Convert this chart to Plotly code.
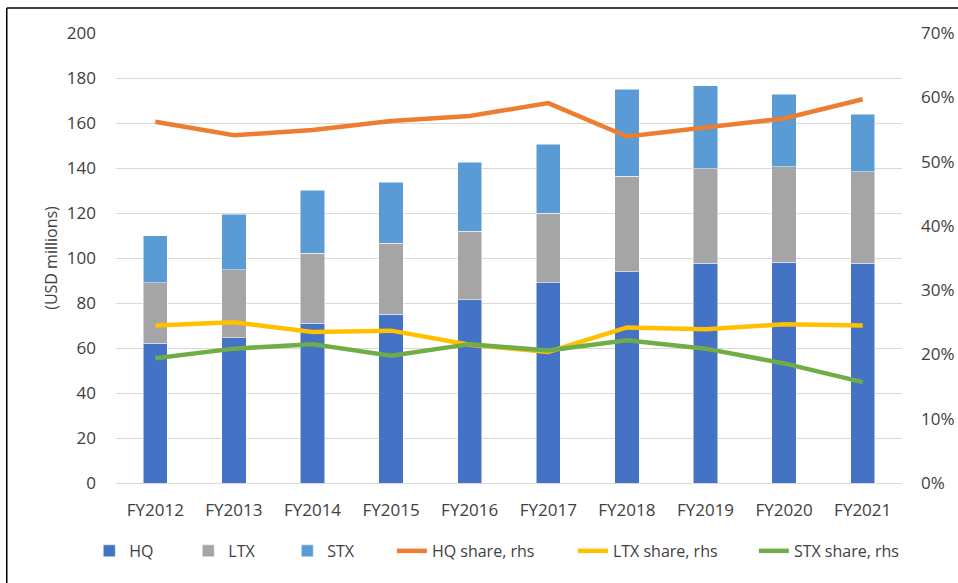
import plotly.graph_objects as go

years = ["FY2012", "FY2013", "FY2014", "FY2015", "FY2016",
         "FY2017", "FY2018", "FY2019", "FY2020", "FY2021"]

# USD millions (stacked components)
hq = [62.2, 64.6, 71.1, 75.0, 81.5, 89.0, 94.0, 97.6, 98.1, 97.6]
ltx = [26.8, 30.1, 31.0, 31.5, 30.5, 31.0, 42.4, 42.1, 42.5, 40.8]
stx = [21.0, 24.7, 28.1, 27.1, 30.5, 30.5, 38.7, 36.9, 32.1, 25.5]

# shares (%), right-hand scale
hq_share = [56.2, 54.1, 54.9, 56.3, 57.1, 59.1, 53.9, 55.3, 56.7, 59.7]
ltx_share = [24.5, 25.0, 23.5, 23.7, 21.5, 20.4, 24.2, 23.9, 24.7, 24.5]
stx_share = [19.4, 20.9, 21.6, 19.8, 21.6, 20.6, 22.2, 20.9, 18.6, 15.7]

left_ticks = [0, 20, 40, 60, 80, 100, 120, 140, 160, 180, 200]
right_ticks = [0, 10, 20, 30, 40, 50, 60, 70]
right_labels = [f"{t}%" for t in right_ticks]

FONT = "Open Sans, Noto Sans, sans-serif"
TXT = "#404040"

fig = go.Figure()

bar_specs = [("HQ", hq, "#4472C4"), ("LTX", ltx, "#A5A5A5"), ("STX", stx, "#5B9BD5")]
for name, vals, col in bar_specs:
    fig.add_trace(go.Bar(
        x=years, y=vals, name=name,
        marker=dict(color=col, line=dict(color="#FFFFFF", width=0.5)),
        legend="legend",
    ))

line_specs = [("HQ share, rhs", hq_share, "#ED7D31"),
              ("LTX share, rhs", ltx_share, "#FFC000"),
              ("STX share, rhs", stx_share, "#70AD47")]
for name, vals, col in line_specs:
    fig.add_trace(go.Scatter(
        x=years, y=vals, name=name, mode="lines",
        line=dict(color=col, width=4.5),
        yaxis="y2", legend="legend2",
    ))

fig.update_layout(
    width=958, height=583,
    margin=dict(l=116, r=56, t=33, b=100, autoexpand=False),
    paper_bgcolor="white", plot_bgcolor="white",
    barmode="stack", bargap=0.69,
    font=dict(family=FONT, size=16, color=TXT),
    xaxis=dict(
        showgrid=False, showline=False, ticks="",
        tickfont=dict(size=17, color=TXT),
        ticklabelstandoff=15,
    ),
    yaxis=dict(
        range=[0, 200], tickvals=left_ticks,
        showgrid=True, gridcolor="#D9D9D9", gridwidth=1.2,
        zeroline=True, zerolinecolor="#D9D9D9", zerolinewidth=1.2,
        showline=False, ticks="",
        tickfont=dict(size=17, color=TXT),
        ticklabelstandoff=19,
        title=dict(text="(USD millions)", font=dict(size=16, color=TXT), standoff=5),
    ),
    yaxis2=dict(
        range=[0, 70], tickvals=right_ticks, ticktext=right_labels,
        overlaying="y", side="right",
        showgrid=False, zeroline=False, showline=False, ticks="",
        tickfont=dict(size=17, color=TXT),
        ticklabelstandoff=18,
    ),
    legend=dict(
        orientation="h", x=-0.034, xanchor="left", y=-0.151, yanchor="middle",
        entrywidth=54, entrywidthmode="pixels",
        font=dict(size=16, color=TXT), traceorder="normal",
        bgcolor="rgba(0,0,0,0)",
    ),
    legend2=dict(
        orientation="h", x=0.351, xanchor="left", y=-0.151, yanchor="middle",
        entrywidth=136, entrywidthmode="pixels",
        font=dict(size=16, color=TXT), traceorder="normal",
        bgcolor="rgba(0,0,0,0)",
    ),
    showlegend=True,
    shapes=[
        dict(type="line", xref="paper", yref="paper",
             x0=-0.139, x1=-0.139, y0=1.0556, y1=-0.25,
             line=dict(color="black", width=1.5)),
        dict(type="line", xref="paper", yref="paper",
             x0=-0.139, x1=1.08, y0=1.0556, y1=1.0556,
             line=dict(color="black", width=1.5)),
    ],
)

fig.write_html("out.html", config={"displayModeBar": False},
               post_script="document.body.style.margin='0';")
